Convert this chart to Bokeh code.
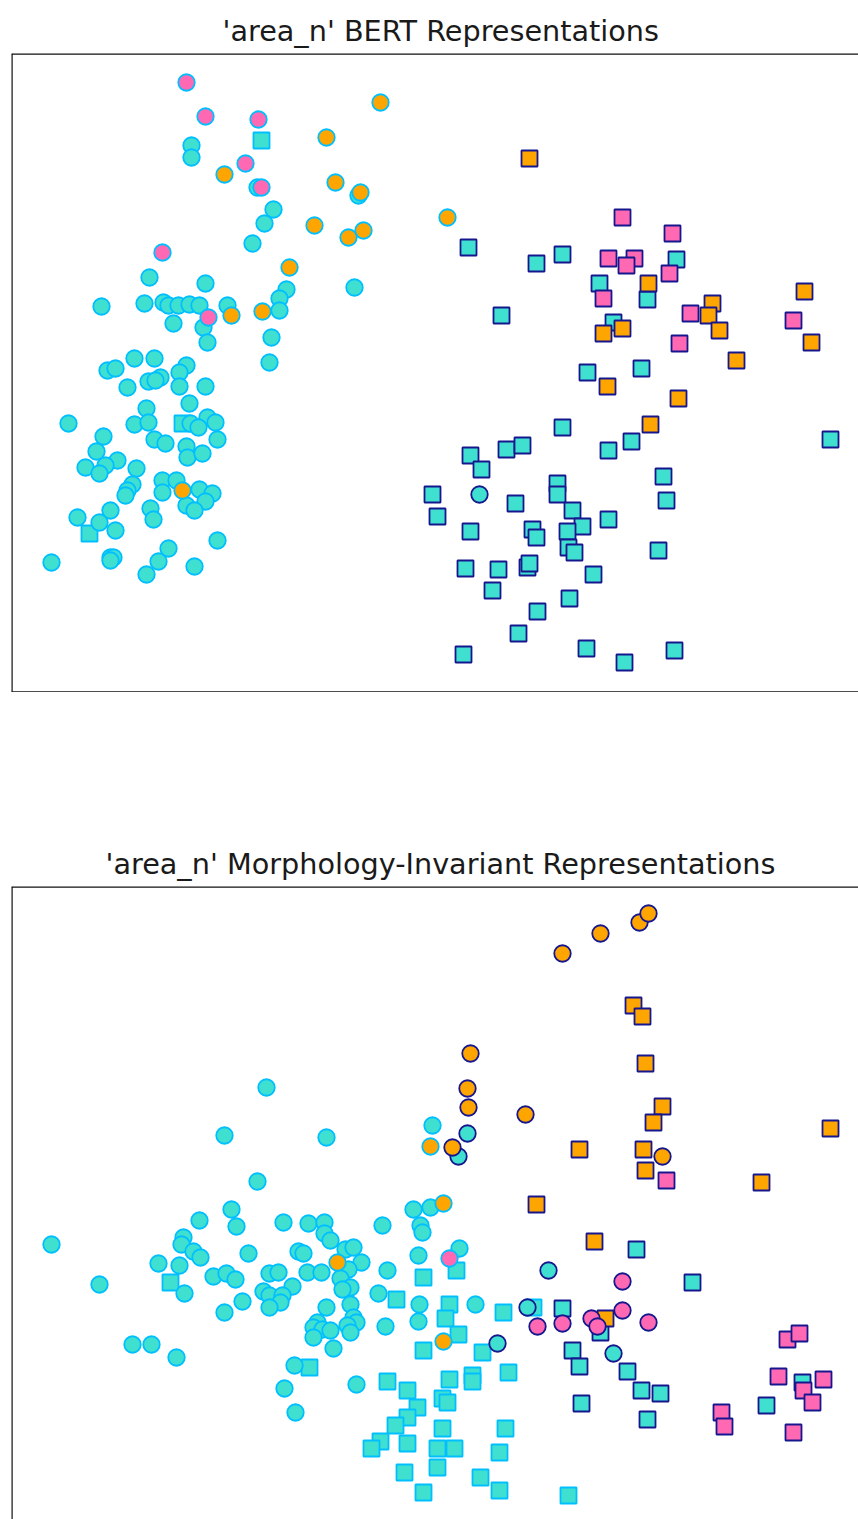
from bokeh.plotting import figure
from bokeh.models import ColumnDataSource, Range1d, Span
from bokeh.layouts import column
from bokeh.embed import file_html
from bokeh.resources import INLINE

# ---------------- data (2-D projection coordinates) ----------------
# Plot 1: 'area_n' BERT Representations
b_cs_turq = [(191,145),(191,157),(257,187),(358,195),(273,209),(264,223),(252,243),(149,277),(205,283),(354,287),
             (286,289),(279,298),(279,310),(101,306),(144,303),(163,302),(168,305),(178,305),(189,304),(199,305),
             (227,305),(173,323),(203,327),(207,342),(271,337),(269,362),(134,358),(154,358),(107,370),(115,368),
             (186,365),(179,372),(148,381),(160,377),(155,380),(179,386),(205,386),(127,387),(189,403),(146,408),
             (68,423),(134,424),(148,422),(190,423),(207,417),(198,427),(215,422),(217,439),(103,436),(154,439),
             (165,443),(186,446),(187,457),(202,453),(96,451),(117,460),(85,467),(105,465),(99,473),(136,468),
             (132,484),(127,490),(125,495),(162,480),(176,480),(162,492),(199,489),(212,493),(205,501),(186,505),
             (194,510),(110,510),(77,517),(99,522),(150,508),(153,519),(115,530),(217,540),(51,562),(110,557),
             (113,557),(110,560),(168,548),(158,561),(146,574),(194,566)]
b_cs_orange = [(380,102),(326,137),(224,174),(335,182),(360,192),(314,225),(348,237),(363,230),(289,267),
               (231,315),(262,311),(182,490),(447,217)]
b_cs_pink = [(186,82),(205,116),(258,119),(245,163),(261,187),(162,252),(208,317)]
b_ss_turq = [(261,140),(182,423),(89,533)]
b_sn_turq = [(468,247),(536,263),(562,254),(676,259),(599,283),(647,299),(501,315),(613,322),(587,372),(641,368),
             (631,441),(608,450),(562,427),(830,439),(470,455),(481,469),(506,449),(522,445),(557,483),(557,494),
             (432,494),(437,516),(515,503),(572,510),(582,526),(608,519),(663,476),(666,500),(470,531),(532,529),
             (536,537),(567,531),(568,547),(574,552),(658,550),(465,568),(498,569),(527,567),(529,563),(593,574),
             (492,590),(569,598),(537,611),(518,633),(463,654),(586,648),(624,662),(674,650)]
b_sn_orange = [(529,158),(648,283),(603,333),(622,328),(712,303),(708,315),(719,330),(804,291),(811,342),
               (736,360),(607,386),(678,398),(650,424)]
b_sn_pink = [(622,217),(672,233),(608,258),(634,258),(626,265),(669,273),(603,298),(690,313),(793,320),(679,343)]
b_cn_turq = [(479,494)]

# Plot 2: 'area_n' Morphology-Invariant Representations
m_cs_turq = [(266,1087),(224,1135),(326,1137),(257,1181),(432,1125),(51,1244),(99,1284),(199,1220),(231,1209),
             (236,1226),(183,1237),(181,1244),(193,1251),(200,1257),(158,1263),(179,1265),(184,1293),(248,1253),
             (213,1276),(226,1273),(235,1279),(283,1222),(308,1223),(324,1222),(324,1233),(330,1240),(382,1225),
             (413,1209),(430,1207),(420,1225),(422,1232),(298,1251),(303,1253),(345,1249),(353,1247),(361,1262),
             (348,1269),(418,1255),(269,1273),(278,1272),(307,1272),(321,1272),(340,1278),(387,1270),(292,1286),
             (350,1287),(342,1289),(263,1291),(269,1295),(282,1295),(280,1302),(269,1307),(242,1301),(224,1312),
             (326,1307),(350,1304),(378,1293),(419,1304),(418,1321),(385,1326),(353,1317),(356,1322),(347,1325),
             (350,1332),(317,1322),(313,1327),(322,1329),(330,1330),(313,1337),(333,1348),(132,1344),(151,1344),
             (176,1357),(294,1365),(284,1388),(295,1412),(356,1384),(459,1248),(475,1304)]
m_cs_orange = [(430,1146),(337,1262),(443,1203),(443,1341)]
m_cs_pink = [(449,1258)]
m_ss_turq = [(170,1282),(396,1299),(423,1277),(309,1367),(423,1350),(387,1381),(407,1390),(417,1407),(407,1417),
             (395,1425),(380,1441),(371,1448),(407,1443),(404,1472),(423,1492),(456,1270),(449,1304),(503,1312),
             (445,1318),(458,1334),(482,1352),(449,1379),(472,1375),(472,1381),(508,1372),(442,1398),(447,1402),
             (442,1428),(505,1428),(437,1448),(454,1448),(437,1467),(499,1452),(480,1477),(499,1490),(568,1495),
             (533,1307)]
m_cn_turq = [(467,1133),(458,1156),(548,1270),(497,1343),(527,1307),(613,1353)]
m_cn_orange = [(562,953),(600,933),(639,922),(648,913),(470,1053),(467,1088),(468,1107),(525,1114),(452,1147),
               (662,1156)]
m_cn_pink = [(622,1281),(537,1326),(562,1323),(591,1318),(597,1326),(622,1310),(648,1322)]
m_sn_turq = [(636,1249),(692,1282),(562,1308),(600,1332),(572,1350),(579,1366),(627,1371),(641,1390),(660,1393),
             (581,1403),(647,1419),(802,1382),(766,1405)]
m_sn_orange = [(633,1005),(642,1016),(645,1063),(662,1106),(653,1122),(830,1128),(579,1149),(643,1149),(645,1170),
               (761,1182),(536,1204),(594,1241),(605,1318)]
m_sn_pink = [(666,1180),(787,1339),(799,1333),(778,1376),(803,1390),(823,1379),(812,1402),(721,1412),(724,1426),
             (793,1432)]

titles = ["'area_n' BERT Representations", "'area_n' Morphology-Invariant Representations"]

TURQ, ORANGE, PINK = "#40E0D0", "#FFA500", "#FF69B4"
SKY, NAVY = "#00BFFF", "#16168e"


def layers(groups):
    xs, ys, mk, fc, lc = [], [], [], [], []
    for pts, marker, fill, edge in groups:
        for x, y in pts:
            xs.append(x); ys.append(y); mk.append(marker); fc.append(fill); lc.append(edge)
    return ColumnDataSource(dict(x=xs, y=ys, marker=mk, fill=fc, line=lc,
                                 size=[16.5 if m == "circle" else 16 for m in mk]))


def make_fig(title, src, ytop, ybot, border_top, title_offset, bottom_line=True):
    p = figure(output_backend="svg", toolbar_location=None, title=title,
               frame_width=847, frame_height=int(ybot - ytop),
               x_range=Range1d(11, 858), y_range=Range1d(ybot, ytop),
               x_axis_type=None, y_axis_type=None,
               min_border_left=11, min_border_right=0, min_border_top=border_top, min_border_bottom=0)
    p.grid.visible = False
    p.outline_line_color = None
    p.background_fill_color = "white"
    p.title.text_font = "DejaVu Sans"
    p.title.text_font_size = "28.7px"
    p.title.text_font_style = "normal"
    p.title.text_color = "#1a1a1a"
    p.title.align = "left"
    p.title.offset = title_offset
    p.title.standoff = 12
    p.scatter("x", "y", source=src, marker="marker", size="size",
              fill_color="fill", line_color="line", line_width=1.8)
    lines = [(11, "height"), (ytop, "width")]
    if bottom_line:
        lines.append((ybot, "width"))
    for loc, dim in lines:
        p.add_layout(Span(location=loc, dimension=dim, line_color="#111111", line_width=2.4))
    return p


src1 = layers([
    (b_ss_turq, "square", TURQ, SKY), (b_sn_turq, "square", TURQ, NAVY),
    (b_cs_turq, "circle", TURQ, SKY), (b_cn_turq, "circle", TURQ, NAVY),
    (b_sn_orange, "square", ORANGE, NAVY), (b_cs_orange, "circle", ORANGE, SKY),
    (b_sn_pink, "square", PINK, NAVY), (b_cs_pink, "circle", PINK, SKY),
])
src2 = layers([
    (m_ss_turq, "square", TURQ, SKY), (m_sn_turq, "square", TURQ, NAVY),
    (m_cs_turq, "circle", TURQ, SKY), (m_cn_turq, "circle", TURQ, NAVY),
    (m_sn_orange, "square", ORANGE, NAVY), (m_cs_orange, "circle", ORANGE, SKY),
    (m_cn_orange, "circle", ORANGE, NAVY),
    (m_sn_pink, "square", PINK, NAVY), (m_cs_pink, "circle", PINK, SKY), (m_cn_pink, "circle", PINK, NAVY),
])

p1 = make_fig(titles[0], src1, 53, 692, 53, 211)
p2 = make_fig(titles[1], src2, 886, 1519, 194, 94, bottom_line=False)

layout = column(p1, p2, spacing=0)
open("out.html", "w").write(file_html(layout, INLINE))
